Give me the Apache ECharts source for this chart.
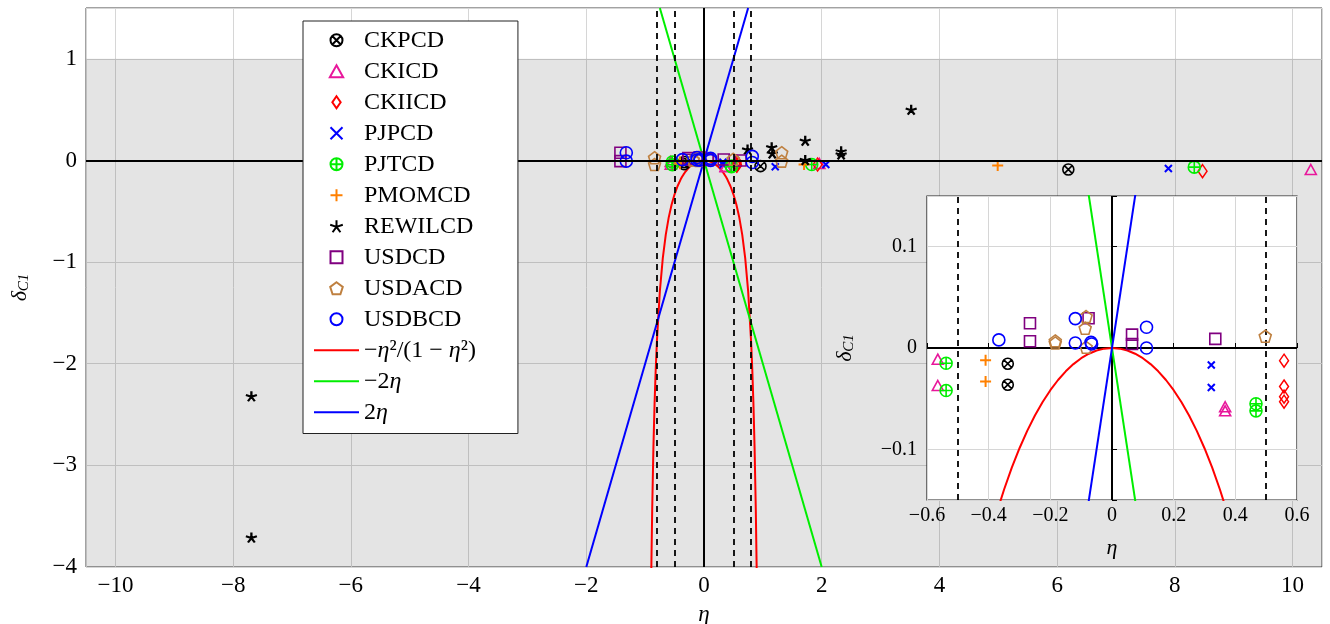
<!DOCTYPE html>
<html><head><meta charset="utf-8">
<script src="https://cdn.jsdelivr.net/npm/echarts@6/dist/echarts.min.js"></script>
<style>html,body{margin:0;padding:0;background:#fff}#c{width:1330px;height:624px}</style>
</head><body><div id="c"></div>
<script>
// ---------- data (η, δ_C1) ----------
const CKPCD   = [[-0.338,-0.0155],[-0.338,-0.0363],[0.96,-0.056],[6.19,-0.089]];
const CKICD   = [[-0.565,-0.011],[-0.565,-0.037],[0.367,-0.058],[0.367,-0.062],[1.96,-0.03],[10.31,-0.089]];
const CKIICD  = [[0.558,-0.0125],[0.558,-0.038],[0.558,-0.048],[0.558,-0.053],[1.93,-0.04],[8.47,-0.105]];
const PJPCD   = [[0.322,-0.0168],[0.322,-0.039],[1.21,-0.062],[2.07,-0.04],[7.89,-0.079]];
const PJTCD   = [[-0.538,-0.015],[-0.538,-0.042],[0.467,-0.055],[0.467,-0.062],[1.83,-0.04],[8.33,-0.066]];
const PMOMCD  = [[-0.41,-0.012],[-0.41,-0.033],[1.70,-0.04],[4.99,-0.05]];
const REWILCD = [[0.74,0.108],[1.15,0.13],[1.16,0.07],[1.72,0.195],[1.72,0.005],[2.33,0.09],[2.33,0.06],[3.52,0.50],[-7.69,-2.32],[-7.69,-3.71]];
const USDCD   = [[-1.42,0.076],[-1.42,-0.007],[-0.266,0.0244],[-0.266,0.0066],[-0.076,0.0294],[0.065,0.0132],[0.065,0.004],[0.335,0.009],[0.62,0.0]];
const USDACD  = [[-0.184,0.005],[-0.184,0.007],[-0.084,0.031],[-0.087,0.0195],[-0.084,0.0007],[0.497,0.0116],[-0.84,0.027],[-0.84,-0.04],[1.32,0.076],[1.32,-0.007]];
const USDBCD  = [[-0.367,0.008],[-0.119,0.029],[-0.119,0.005],[-0.068,0.0056],[-0.066,0.004],[0.112,0.0205],[0.112,0.0],[-1.32,0.076],[-1.32,-0.007],[0.82,0.04],[0.82,-0.02]];

// curves as drawn: -η²/(1-η²), -2η, 2η
const curveEta = [-0.9,-0.894,-0.88,-0.86,-0.84,-0.82,-0.8,-0.75,-0.7,-0.65,-0.6,-0.55,-0.5,-0.45,-0.4,-0.375,-0.35,-0.325,-0.3,-0.275,-0.25,-0.225,-0.2,-0.175,-0.15,-0.125,-0.1,-0.075,-0.05,-0.025,0,0.025,0.05,0.075,0.1,0.125,0.15,0.175,0.2,0.225,0.25,0.275,0.3,0.325,0.35,0.375,0.4,0.45,0.5,0.55,0.6,0.65,0.7,0.75,0.8,0.82,0.84,0.86,0.88,0.894,0.9];
const curveRed = [-4.263,-3.981,-3.4326,-2.8402,-2.3967,-2.0525,-1.7778,-1.2857,-0.9608,-0.7316,-0.5625,-0.4337,-0.3333,-0.2539,-0.1905,-0.163636,-0.1396,-0.118099,-0.0989,-0.081812,-0.06667,-0.053325,-0.04167,-0.031593,-0.0230,-0.015873,-0.0101,-0.005657,-0.002506,-0.000625,0,-0.000625,-0.002506,-0.005657,-0.0101,-0.015873,-0.0230,-0.031593,-0.04167,-0.053325,-0.06667,-0.081812,-0.0989,-0.118099,-0.1396,-0.163636,-0.1905,-0.2539,-0.3333,-0.4337,-0.5625,-0.7316,-0.9608,-1.2857,-1.7778,-2.0525,-2.3967,-2.8402,-3.4326,-3.981,-4.263];
const lineGreen = [[-0.75,1.5],[2,-4]];
const lineBlue  = [[-2,-4],[0.75,1.5]];

// tick labels / reference lines
const xTicksMain = [-10,-8,-6,-4,-2,0,2,4,6,8,10];
const yTicksMain = [-4,-3,-2,-1,0,1];
const xTicksInset = [-0.6,-0.4,-0.2,0,0.2,0.4,0.6];
const yTicksInset = [-0.1,0,0.1];
const dashMain = [-0.8,-0.5,0.5,0.8];
const dashInset = [-0.5,0.5];
const shadeRange = [-4, 1];

const seriesNames = ['CKPCD','CKICD','CKIICD','PJPCD','PJTCD','PMOMCD','REWILCD','USDCD','USDACD','USDBCD'];
const seriesData = [CKPCD,CKICD,CKIICD,PJPCD,PJTCD,PMOMCD,REWILCD,USDCD,USDACD,USDBCD];
const curveNames = ['−η²/(1 − η²)','−2η','2η'];

// ---------- styles ----------
const FONT = 'Liberation Serif';
const circ = 'M100 0 A100 100 0 1 1 -100 0 A100 100 0 1 1 100 0 Z';
const sym = {
  CKPCD:  {s:'path://'+circ+' M-70 -70 L70 70 M-70 70 L70 -70', size:11, c:'#000', w:1.6},
  CKICD:  {s:'path://M0 -100 L100 80 L-100 80 Z', size:[11,10], c:'#e8179b', w:1.6},
  CKIICD: {s:'path://M0 -130 L90 0 L0 130 L-90 0 Z', size:[9,13], c:'#ff0000', w:1.5},
  PJPCD:  {s:'path://M-100 -100 L100 100 M-100 100 L100 -100', size:7, c:'#0000ff', w:2},
  PJTCD:  {s:'path://'+circ+' M-100 0 L100 0 M0 -100 L0 100', size:12, c:'#00ee00', w:1.6},
  PMOMCD: {s:'path://M-100 0 L100 0 M0 -100 L0 100', size:11, c:'#ff8000', w:2},
  REWILCD:{s:'path://M0 0 L0 -100 M0 0 L-95 -31 M0 0 L-59 81 M0 0 L59 81 M0 0 L95 -31', size:[11,10], c:'#000', w:2.2},
  USDCD:  {s:'path://M-100 -100 L100 -100 L100 100 L-100 100 Z', size:11, c:'#800080', w:1.6},
  USDACD: {s:'path://M0 -100 L95 -31 L59 81 L-59 81 L-95 -31 Z', size:[12,12], c:'#bf8040', w:1.6},
  USDBCD: {s:'path://'+circ, size:12, c:'#0000ff', w:1.6}
};
const curveColors = ['#ff0000','#00ee00','#0000ff'];

const fmtNum = v => { const r = Math.round(v*10)/10; return (r<0?'−':'') + (Number.isInteger(r)?Math.abs(r):Math.abs(r).toFixed(1)); };
const inList = (v, list) => list.some(t => Math.abs(t - v) < 1e-6);

function scatterSeries(gi){
  return seriesNames.map((n,i) => ({
    name:n, type:'scatter', xAxisIndex:gi, yAxisIndex:gi, data:seriesData[i],
    symbol:sym[n].s, symbolSize:sym[n].size, clip:true, z: gi?7:3,
    itemStyle:{color:'rgba(0,0,0,0)', borderColor:sym[n].c, borderWidth:sym[n].w, opacity:1},
    emphasis:{disabled:true}
  }));
}
function curveSeries(gi){
  const redData = curveEta.map((e,k)=>[e,curveRed[k]]);
  const mk = (k, data) => ({name:curveNames[k], type:'line', xAxisIndex:gi, yAxisIndex:gi, data:data,
    showSymbol:false, symbol:'none', clip:true, z: gi?6:2,
    lineStyle:{color:curveColors[k], width:2}, itemStyle:{color:'rgba(0,0,0,0)', borderWidth:0},
    emphasis:{disabled:true}});
  return [mk(0, redData), mk(1, lineGreen), mk(2, lineBlue)];
}
function refLines(gi, dashes){
  return {
    type:'line', xAxisIndex:gi, yAxisIndex:gi, data:[], z: gi?6:2, silent:true,
    markLine:{silent:true, symbol:'none', label:{show:false}, animation:false,
      data:[
        {xAxis:0, lineStyle:{color:'#000', width:2, type:'solid'}},
        {yAxis:0, lineStyle:{color:'#000', width:2, type:'solid'}},
        ...dashes.map(d => ({xAxis:d, lineStyle:{color:'#000', width:1.8, type:[6,5]}}))
      ]}
  };
}

const axisName = '{d|δ}{s|C1}';
const nameRich = {d:{fontFamily:FONT, fontStyle:'italic', fontSize:22, color:'#000'}, s:{fontFamily:FONT, fontStyle:'italic', fontSize:15, color:'#000', verticalAlign:'bottom', padding:[8,0,0,0]}};

const option = {
  animation:false,
  backgroundColor:'#fff',
  textStyle:{fontFamily:FONT},
  grid:[
    {left:86, top:8, width:1236, height:559, show:true, backgroundColor:'rgba(0,0,0,0)', borderColor:'#444', borderWidth:1, z:0, containLabel:false, outerBoundsMode:'none'},
    {left:927, top:196, width:370, height:304, show:true, backgroundColor:'#fff', borderColor:'#222', borderWidth:1.2, z:5, containLabel:false, outerBoundsMode:'none'}
  ],
  xAxis:[
    {gridIndex:0, type:'value', min:-10.5, max:10.5, splitNumber:10,
     axisLine:{show:false}, axisTick:{show:false},
     axisLabel:{fontFamily:FONT, fontSize:23, color:'#000', margin:7, formatter:v=>inList(v,xTicksMain)?fmtNum(v):''},
     splitLine:{show:true, lineStyle:{color:'#d6d6d6', width:1}},
     name:'η', nameLocation:'middle', nameGap:36, nameTextStyle:{fontFamily:FONT, fontStyle:'italic', fontSize:23, color:'#000'}},
    {gridIndex:1, type:'value', min:-0.6, max:0.6, interval:0.2, z:5,
     axisLine:{show:false}, axisTick:{show:true, inside:true, length:5, lineStyle:{color:'#000'}},
     axisLabel:{fontFamily:FONT, fontSize:20, color:'#000', margin:6, formatter:v=>inList(v,xTicksInset)?fmtNum(v):''},
     splitLine:{show:true, lineStyle:{color:'#d6d6d6', width:1}},
     name:'η', nameLocation:'middle', nameGap:37, nameTextStyle:{fontFamily:FONT, fontStyle:'italic', fontSize:22, color:'#000'}}
  ],
  yAxis:[
    {gridIndex:0, type:'value', min:-4, max:1.5, interval:1,
     axisLine:{show:false}, axisTick:{show:false},
     axisLabel:{fontFamily:FONT, fontSize:23, color:'#000', margin:9, formatter:v=>inList(v,yTicksMain)?fmtNum(v):''},
     splitLine:{show:true, lineStyle:{color:'#d6d6d6', width:1}},
     name:axisName, nameLocation:'middle', nameGap:54, nameRotate:90, nameTextStyle:{rich:nameRich}},
    {gridIndex:1, type:'value', min:-0.15, max:0.15, splitNumber:3, z:5,
     axisLine:{show:false}, axisTick:{show:true, inside:true, length:5, lineStyle:{color:'#000'}},
     axisLabel:{fontFamily:FONT, fontSize:20, color:'#000', margin:10, formatter:v=>inList(v,yTicksInset)?fmtNum(v):''},
     splitLine:{show:true, lineStyle:{color:'#d6d6d6', width:1}},
     name:axisName, nameLocation:'middle', nameGap:70, nameRotate:90, nameTextStyle:{rich:nameRich}}
  ],
  legend:{
    orient:'vertical', left:303, top:21, data:[...seriesNames, ...curveNames],
    itemWidth:45, itemHeight:12, itemGap:6.5, symbolKeepAspect:true,
    padding:[7,42,9,10],
    backgroundColor:'#fff', borderColor:'#222', borderWidth:1, z:10,
    selectedMode:false,
    textStyle:{fontFamily:FONT, fontSize:24, color:'#000', lineHeight:24.5,
      rich:{i:{fontFamily:FONT, fontStyle:'italic', fontSize:24, color:'#000', lineHeight:24.5}}},
    formatter: n => n.replace(/η/g,'{i|η}')
  },
  series:[
    // shaded band δ in [-4, 1]
    {type:'line', xAxisIndex:0, yAxisIndex:0, data:[], z:1, silent:true,
     markArea:{silent:true, itemStyle:{color:'rgba(0,0,0,0.105)'}, data:[[{yAxis:shadeRange[0]},{yAxis:shadeRange[1]}]]}},
    refLines(0, dashMain),
    ...curveSeries(0),
    ...scatterSeries(0),
    refLines(1, dashInset),
    ...curveSeries(1),
    ...scatterSeries(1)
  ]
};
const chart = echarts.init(document.getElementById('c'), null, {renderer:'canvas'});
chart.setOption(option);
</script>
</body></html>
